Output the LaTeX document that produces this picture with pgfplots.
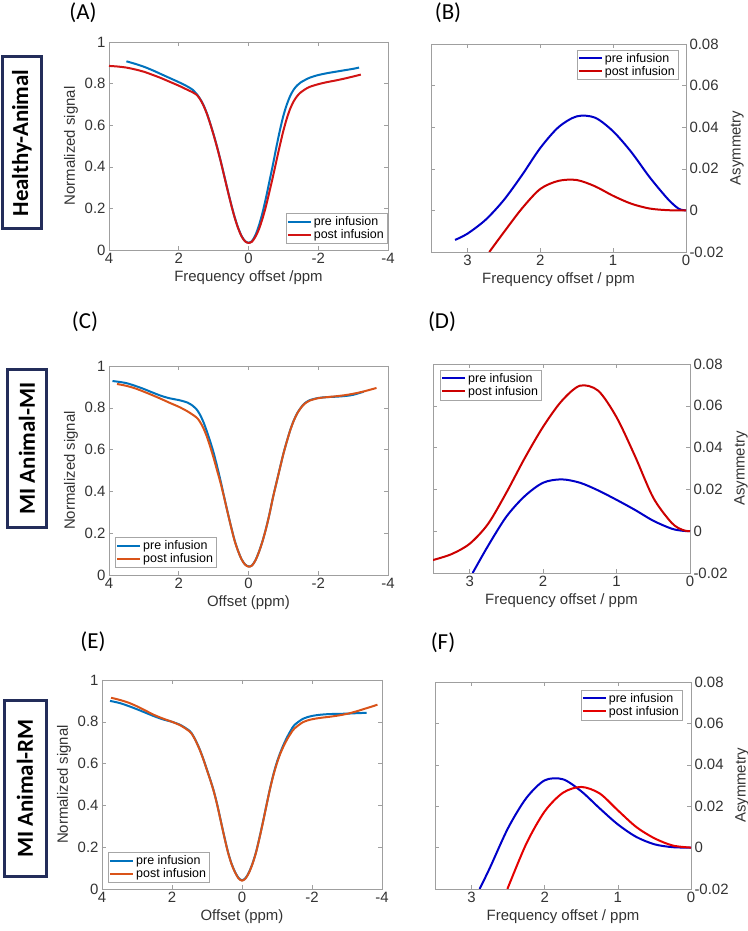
\documentclass[border=0pt]{standalone}
\usepackage{fontspec}
\setmainfont{Liberation Sans}
\newfontfamily\calfont{Carlito}
\usepackage{pgfplots}
\pgfplotsset{compat=1.18}
\definecolor{mblue}{RGB}{0,114,189}
\definecolor{morange}{RGB}{217,83,25}
\definecolor{dblue}{RGB}{0,0,200}
\definecolor{dred}{RGB}{204,0,0}
\definecolor{ared}{RGB}{210,20,20}
\definecolor{navy}{RGB}{35,45,90}
\pgfplotsset{
  base/.style={
    scale only axis,
    axis line style={gray!75},
    tick style={gray!75, line width=0.5bp},
    tick align=inside,
    major tick length=4bp,
    scaled ticks=false,
    /pgf/number format/assume math mode=true,
    every tick label/.append style={font=\fontsize{15}{17}\selectfont, text=black!80},
    label style={font=\fontsize{15}{18}\selectfont, text=black!80},
    legend style={font=\fontsize{12.5}{14}\selectfont, draw=gray!70, inner sep=1bp, row sep=-1.5bp, fill=white},
    legend cell align=left,
    legend image code/.code={\draw[#1, line width=2bp] (0bp,0bp) -- (23bp,0bp);},
    every axis plot/.append style={line width=2bp, smooth, tension=0.5},
  },
  zspec/.style={base, xmin=-4, xmax=4, ymin=0, ymax=1, x dir=reverse,
    xtick={-4,-2,0,2,4}, ytick={0,0.2,0.4,0.6,0.8,1},
    yticklabels={0,0.2,0.4,0.6,0.8,1}, ylabel={Normalized signal}},
  asym/.style={base, xmin=0, xmax=3.5, ymin=-0.02, ymax=0.08, x dir=reverse,
    xtick={0,1,2,3}, ytick={-0.02,0,0.02,0.04,0.06,0.08},
    yticklabels={-0.02,0,0.02,0.04,0.06,0.08},
    yticklabel pos=right, ylabel near ticks, ylabel={Asymmetry},
    ylabel style={font=\fontsize{15}{18}\selectfont, text=black!80},
    xlabel={Frequency offset / ppm}},
}
\begin{document}
\begin{tikzpicture}
\path[use as bounding box] (0,0) rectangle (748bp,931bp);
% panel labels
\node[font=\calfont\fontsize{23}{26}\selectfont] at (83bp,918bp) {(A)};
\node[font=\calfont\fontsize{23}{26}\selectfont] at (448bp,918bp) {(B)};
\node[font=\calfont\fontsize{23}{26}\selectfont] at (85bp,609bp) {(C)};
\node[font=\calfont\fontsize{23}{26}\selectfont] at (442bp,609bp) {(D)};
\node[font=\calfont\fontsize{23}{26}\selectfont] at (93bp,289bp) {(E)};
\node[font=\calfont\fontsize{23}{26}\selectfont] at (443bp,288bp) {(F)};
% row boxes
\node[draw=navy, line width=3bp, rotate=90, minimum width=172bp, minimum height=39bp, inner sep=0pt,
  font=\calfont\bfseries\fontsize{23}{26}\selectfont] at (22bp,788bp) {Healthy-Animal};
\node[draw=navy, line width=3bp, rotate=90, minimum width=158bp, minimum height=39bp, inner sep=0pt,
  font=\calfont\bfseries\fontsize{23}{26}\selectfont] at (27bp,482.5bp) {MI Animal-MI};
\node[draw=navy, line width=3bp, rotate=90, minimum width=176bp, minimum height=42bp, inner sep=0pt,
  font=\calfont\bfseries\fontsize{23}{26}\selectfont] at (25bp,142.5bp) {MI Animal-RM};

% ---------------- A ----------------
\begin{axis}[zspec, at={(109bp,681bp)}, anchor=south west, width=279bp, height=208bp,
  xlabel={Frequency offset /ppm},
  legend style={at={(1,0)}, anchor=south east, xshift=-1bp, yshift=7bp}]
\addplot[mblue] coordinates {(3.5,0.907) (3.25,0.895) (3.0,0.881) (2.75,0.864) (2.5,0.845) (2.25,0.826) (2.0,0.807) (1.75,0.786) (1.6,0.770) (1.5,0.753) (1.4,0.730) (1.3,0.700) (1.2,0.660) (1.1,0.610) (1.0,0.555) (0.9,0.495) (0.8,0.430) (0.7,0.360) (0.6,0.290) (0.5,0.222) (0.4,0.160) (0.3,0.108) (0.2,0.068) (0.1,0.043) (0,0.035) (-0.1,0.043) (-0.2,0.072) (-0.3,0.118) (-0.4,0.178) (-0.5,0.250) (-0.6,0.330) (-0.7,0.410) (-0.8,0.495) (-0.9,0.575) (-1.0,0.645) (-1.1,0.700) (-1.2,0.742) (-1.3,0.772) (-1.4,0.792) (-1.5,0.806) (-1.75,0.828) (-2.0,0.841) (-2.25,0.850) (-2.5,0.857) (-2.75,0.864) (-3.0,0.871) (-3.17,0.877)};
\addlegendentry{pre infusion}
\addplot[ared] coordinates {(4.0,0.885) (3.75,0.882) (3.5,0.877) (3.25,0.868) (3.0,0.857) (2.75,0.842) (2.5,0.826) (2.25,0.808) (2.0,0.790) (1.75,0.770) (1.6,0.758) (1.5,0.748) (1.4,0.728) (1.3,0.698) (1.2,0.658) (1.1,0.608) (1.0,0.553) (0.9,0.493) (0.8,0.428) (0.7,0.358) (0.6,0.288) (0.5,0.220) (0.4,0.158) (0.3,0.106) (0.2,0.066) (0.1,0.042) (0,0.034) (-0.1,0.040) (-0.2,0.064) (-0.3,0.100) (-0.4,0.150) (-0.5,0.210) (-0.6,0.280) (-0.7,0.352) (-0.8,0.428) (-0.9,0.503) (-1.0,0.573) (-1.1,0.633) (-1.2,0.681) (-1.3,0.716) (-1.4,0.741) (-1.5,0.758) (-1.6,0.770) (-1.75,0.784) (-2.0,0.797) (-2.25,0.807) (-2.5,0.815) (-2.75,0.824) (-3.0,0.834) (-3.22,0.843)};
\addlegendentry{post infusion}
\end{axis}

% ---------------- B ----------------
\begin{axis}[asym, at={(431bp,679bp)}, anchor=south west, width=255bp, height=208bp,
  legend style={at={(1,1)}, anchor=north east, xshift=-8bp, yshift=-6bp}]
\addplot[dblue] coordinates {(3.17,-0.0142) (3.0,-0.0112) (2.75,-0.0045) (2.5,0.0050) (2.25,0.0170) (2.0,0.0300) (1.75,0.0400) (1.5,0.0452) (1.25,0.0446) (1.0,0.0380) (0.75,0.0280) (0.5,0.0160) (0.25,0.0055) (0.1,0.0008) (0,0)};
\addlegendentry{pre infusion}
\addplot[dred] coordinates {(2.70,-0.0200) (2.5,-0.0105) (2.25,0.0010) (2.0,0.0103) (1.75,0.0142) (1.5,0.0146) (1.25,0.0116) (1.0,0.0070) (0.75,0.0032) (0.5,0.0009) (0.25,0.0001) (0,0)};
\addlegendentry{post infusion}
\end{axis}

% ---------------- C ----------------
\begin{axis}[zspec, at={(109bp,356bp)}, anchor=south west, width=279bp, height=209bp,
  xlabel={Offset (ppm)},
  legend style={at={(0,0)}, anchor=south west, xshift=6bp, yshift=8bp}]
\addplot[mblue] coordinates {(3.9,0.928) (3.75,0.925) (3.5,0.918) (3.25,0.905) (3.0,0.890) (2.75,0.873) (2.5,0.857) (2.25,0.845) (2.0,0.837) (1.75,0.825) (1.6,0.810) (1.5,0.795) (1.4,0.770) (1.3,0.735) (1.2,0.690) (1.1,0.640) (1.0,0.585) (0.9,0.520) (0.8,0.450) (0.7,0.375) (0.6,0.302) (0.5,0.232) (0.4,0.167) (0.3,0.116) (0.2,0.076) (0.1,0.051) (0,0.041) (-0.1,0.046) (-0.2,0.071) (-0.3,0.111) (-0.4,0.161) (-0.5,0.221) (-0.6,0.291) (-0.7,0.370) (-0.8,0.441) (-0.9,0.511) (-1.0,0.580) (-1.1,0.640) (-1.2,0.695) (-1.3,0.740) (-1.4,0.775) (-1.5,0.800) (-1.6,0.820) (-1.75,0.836) (-2.0,0.847) (-2.25,0.851) (-2.5,0.853) (-2.75,0.856) (-3.0,0.862) (-3.3,0.877)};
\addlegendentry{pre infusion}
\addplot[morange] coordinates {(3.77,0.914) (3.5,0.905) (3.25,0.893) (3.0,0.877) (2.75,0.860) (2.5,0.842) (2.25,0.823) (2.0,0.805) (1.75,0.783) (1.5,0.755) (1.4,0.735) (1.3,0.705) (1.2,0.665) (1.1,0.615) (1.0,0.560) (0.9,0.500) (0.8,0.440) (0.7,0.372) (0.6,0.300) (0.5,0.230) (0.4,0.165) (0.3,0.115) (0.2,0.075) (0.1,0.050) (0,0.040) (-0.1,0.045) (-0.2,0.070) (-0.3,0.110) (-0.4,0.160) (-0.5,0.220) (-0.6,0.290) (-0.7,0.369) (-0.8,0.440) (-0.9,0.510) (-1.0,0.579) (-1.1,0.639) (-1.2,0.694) (-1.3,0.739) (-1.4,0.774) (-1.5,0.799) (-1.6,0.818) (-1.75,0.834) (-2.0,0.846) (-2.25,0.851) (-2.5,0.855) (-2.75,0.860) (-3.0,0.867) (-3.25,0.876) (-3.5,0.887) (-3.67,0.895)};
\addlegendentry{post infusion}
\end{axis}

% ---------------- D ----------------
\begin{axis}[asym, at={(433bp,358bp)}, anchor=south west, width=257bp, height=209bp,
  legend style={at={(0,1)}, anchor=north west, xshift=7bp, yshift=-6bp}]
\addplot[dblue] coordinates {(2.96,-0.0200) (2.75,-0.0070) (2.5,0.0070) (2.25,0.0168) (2.0,0.0232) (1.75,0.0248) (1.5,0.0232) (1.25,0.0195) (1.0,0.0150) (0.75,0.0102) (0.5,0.0050) (0.25,0.0012) (0.1,0.0002) (0,0)};
\addlegendentry{pre infusion}
\addplot[dred] coordinates {(3.5,-0.0138) (3.25,-0.0110) (3.0,-0.0060) (2.75,0.0035) (2.5,0.0185) (2.25,0.0350) (2.0,0.0500) (1.75,0.0622) (1.5,0.0696) (1.25,0.0672) (1.0,0.0545) (0.75,0.0360) (0.5,0.0160) (0.25,0.0040) (0.1,0.0006) (0,0)};
\addlegendentry{post infusion}
\end{axis}

% ---------------- E ----------------
\begin{axis}[zspec, at={(102bp,42bp)}, anchor=south west, width=280bp, height=209bp,
  xlabel={Offset (ppm)},
  legend style={at={(0,0)}, anchor=south west, xshift=6bp, yshift=7bp}]
\addplot[mblue] coordinates {(3.77,0.900) (3.5,0.890) (3.25,0.876) (3.0,0.860) (2.75,0.843) (2.5,0.826) (2.25,0.811) (2.0,0.800) (1.75,0.784) (1.5,0.757) (1.4,0.735) (1.3,0.703) (1.2,0.665) (1.1,0.620) (1.0,0.570) (0.9,0.520) (0.8,0.465) (0.7,0.398) (0.6,0.322) (0.5,0.247) (0.4,0.177) (0.3,0.122) (0.2,0.082) (0.1,0.053) (0,0.042) (-0.1,0.052) (-0.2,0.080) (-0.3,0.122) (-0.4,0.176) (-0.5,0.246) (-0.6,0.322) (-0.7,0.402) (-0.8,0.480) (-0.9,0.550) (-1.0,0.608) (-1.1,0.655) (-1.2,0.695) (-1.3,0.730) (-1.4,0.760) (-1.5,0.785) (-1.75,0.815) (-2.0,0.828) (-2.25,0.834) (-2.5,0.837) (-2.75,0.838) (-3.0,0.839) (-3.25,0.841) (-3.56,0.843)};
\addlegendentry{pre infusion}
\addplot[morange] coordinates {(3.74,0.915) (3.5,0.905) (3.25,0.892) (3.0,0.874) (2.75,0.853) (2.5,0.832) (2.25,0.815) (2.0,0.800) (1.75,0.782) (1.5,0.754) (1.4,0.733) (1.3,0.701) (1.2,0.663) (1.1,0.618) (1.0,0.568) (0.9,0.518) (0.8,0.463) (0.7,0.396) (0.6,0.320) (0.5,0.245) (0.4,0.175) (0.3,0.120) (0.2,0.080) (0.1,0.051) (0,0.040) (-0.1,0.050) (-0.2,0.078) (-0.3,0.120) (-0.4,0.174) (-0.5,0.244) (-0.6,0.320) (-0.7,0.400) (-0.8,0.478) (-0.9,0.546) (-1.0,0.603) (-1.1,0.650) (-1.2,0.687) (-1.3,0.719) (-1.4,0.746) (-1.5,0.768) (-1.75,0.799) (-2.0,0.812) (-2.25,0.819) (-2.5,0.824) (-2.75,0.830) (-3.0,0.838) (-3.25,0.849) (-3.5,0.862) (-3.75,0.875) (-3.87,0.882)};
\addlegendentry{post infusion}
\end{axis}

% ---------------- F ----------------
\begin{axis}[asym, at={(435bp,42bp)}, anchor=south west, width=256bp, height=207bp,
  legend style={at={(1,1)}, anchor=north east, xshift=-9bp, yshift=-8bp}]
\addplot[dblue] coordinates {(2.89,-0.0200) (2.75,-0.0098) (2.5,0.0095) (2.25,0.0240) (2.0,0.0325) (1.75,0.0330) (1.5,0.0272) (1.25,0.0190) (1.0,0.0112) (0.75,0.0052) (0.5,0.0016) (0.25,0.0002) (0,0)};
\addlegendentry{pre infusion}
\addplot[red!90!black] coordinates {(2.51,-0.0200) (2.25,0.0020) (2.0,0.0175) (1.75,0.0265) (1.5,0.0293) (1.25,0.0262) (1.0,0.0180) (0.75,0.0100) (0.5,0.0045) (0.25,0.0010) (0,0)};
\addlegendentry{post infusion}
\end{axis}
\end{tikzpicture}
\end{document}
